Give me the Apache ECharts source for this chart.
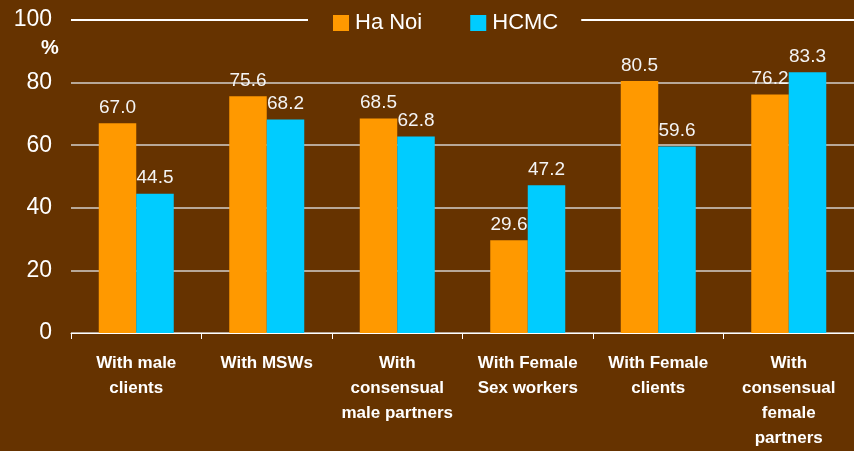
<!DOCTYPE html>
<html>
<head>
<meta charset="utf-8">
<script src="https://cdn.jsdelivr.net/npm/echarts@6/dist/echarts.min.js"></script>
<style>
  html, body { margin: 0; padding: 0; background: #663300; }
  #chart { width: 854px; height: 451px; }
</style>
</head>
<body>
<div id="chart"></div>
<script>
const categories = [
  'With male\nclients',
  'With MSWs',
  'With\nconsensual\nmale partners',
  'With Female\nSex workers',
  'With Female\nclients',
  'With\nconsensual\nfemale\npartners'
];
const haNoi = [67.0, 75.6, 68.5, 29.6, 80.5, 76.2];
const hcmc = [44.5, 68.2, 62.8, 47.2, 59.6, 83.3];
const yTicks = [0, 20, 40, 60, 80, 100];

const font = '"Liberation Sans", Arial, sans-serif';
let chart = echarts.init(document.getElementById('chart'));

let barLabel = {
  show: true,
  position: 'top',
  distance: 6,
  color: '#f4f4f4',
  fontSize: 19,
  fontFamily: font,
  formatter: function (p) { return p.value.toFixed(1); }
};

let option = {
  backgroundColor: '#663300',
  animation: false,
  grid: { left: 71, right: -3, top: 20, bottom: 116 },
  legend: {
    top: 6,
    left: 308,
    padding: [6, 23, 6, 25],
    backgroundColor: '#663300',
    icon: 'rect',
    itemWidth: 16,
    itemHeight: 16,
    itemGap: 48,
    textStyle: { color: '#fff', fontSize: 22, fontFamily: font, padding: [0, 0, 0, 1] },
    data: ['Ha Noi', 'HCMC']
  },
  graphic: [{
    type: 'text',
    left: 41,
    top: 38,
    style: { text: '%', fill: '#fff', font: 'bold 20px ' + font }
  }],
  xAxis: {
    type: 'category',
    data: categories,
    axisLine: { lineStyle: { color: '#fff', width: 1 } },
    axisTick: { show: true, length: 6, lineStyle: { color: '#fff' } },
    axisLabel: {
      color: '#fff',
      fontSize: 17,
      fontWeight: 'bold',
      fontFamily: font,
      lineHeight: 25,
      margin: 18,
      interval: 0
    }
  },
  yAxis: {
    type: 'value',
    min: yTicks[0],
    max: yTicks[yTicks.length - 1],
    interval: 20,
    axisLine: { show: false },
    axisTick: { show: false },
    axisLabel: { color: '#fff', fontSize: 23, fontFamily: font, margin: 19 },
    splitLine: {
      lineStyle: {
        color: ['#b8a898', '#b8a898', '#b8a898', '#b8a898', '#b8a898', '#ffffff'],
        width: 2
      }
    }
  },
  series: [
    {
      name: 'Ha Noi',
      type: 'bar',
      data: haNoi,
      barWidth: 37.5,
      barGap: '0%',
      itemStyle: { color: '#ff9900' },
      label: barLabel
    },
    {
      name: 'HCMC',
      type: 'bar',
      data: hcmc,
      barWidth: 37.5,
      barGap: '0%',
      itemStyle: { color: '#00ccff' },
      label: barLabel
    }
  ]
};
chart.setOption(option);
</script>
</body>
</html>
